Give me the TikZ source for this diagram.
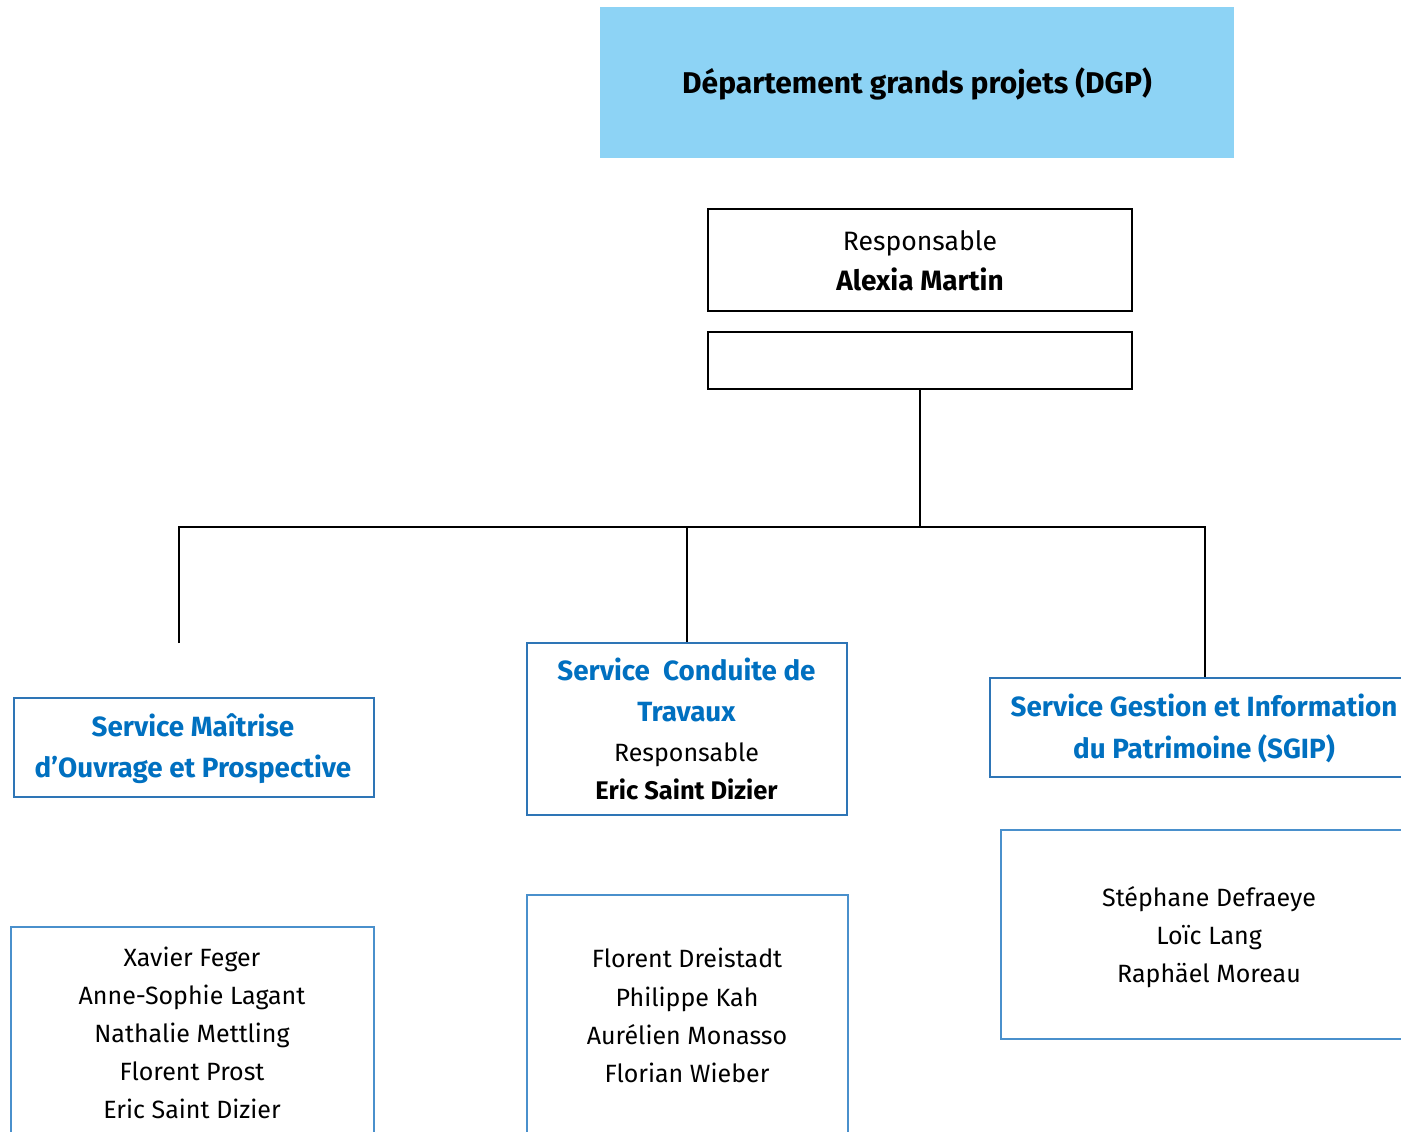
\documentclass[tikz,border=0pt]{standalone}
\usepackage{fontspec}
\setmainfont{Fira Sans}
\usetikzlibrary{fit}
\definecolor{titlefill}{HTML}{8DD3F5}
\definecolor{svcblue}{HTML}{0070C0}
\definecolor{svcline}{HTML}{2E75B6}
\definecolor{listline}{HTML}{4A90CC}
\begin{document}
\begin{tikzpicture}[x=1pt,y=-1pt,
  blackbox/.style={draw=black, line width=1.3pt, inner sep=0pt},
  svcbox/.style={draw=svcline, line width=1.3pt, inner sep=0pt},
  listbox/.style={draw=listline, line width=1.3pt, inner sep=0pt},
  conn/.style={draw=black, line width=1.5pt},
  ttl/.style={anchor=base, inner sep=0pt, font=\fontsize{30}{36}\selectfont\bfseries},
  svc/.style={anchor=base, inner sep=0pt, text=svcblue, font=\fontsize{27.8}{32}\selectfont\bfseries},
  body/.style={anchor=base, inner sep=0pt, font=\fontsize{25}{30}\selectfont},
  bodyb/.style={anchor=base, inner sep=0pt, font=\fontsize{25.5}{30}\selectfont\bfseries},
  bigbody/.style={anchor=base, inner sep=0pt, font=\fontsize{26.6}{30}\selectfont},
  bigbodyb/.style={anchor=base, inner sep=0pt, font=\fontsize{28}{30}\selectfont\bfseries}]
\useasboundingbox (0,0) rectangle (1401,1132);
\clip (0,0) rectangle (1401,1132);
\fill[white] (0,0) rectangle (1401,1132);

% header
\node[fill=titlefill, inner sep=0pt, fit={(600,7) (1234,158)}] (dgp) {};
\node[ttl] (dgptxt) at (917,93) {Département grands projets (DGP)};

% responsable
\node[blackbox, fit={(708,209) (1132,311)}] (resp) {};
\node[bigbody] (resp1) at (920,250) {Responsable};
\node[bigbodyb] (resp2) at (920,290.5) {Alexia Martin};
\node[blackbox, fit={(708,332) (1132,389)}] (sub) {};

% services
\node[svcbox, fit={(14,698) (374,797)}] (mop) {};
\node[svc] (mop1) at (193,736.5) {Service Maîtrise};
\node[svc] (mop2) at (193,777.5) {d’Ouvrage et Prospective};

\node[svcbox, fit={(527,643) (847,815)}] (ctt) {};
\node[svc] (ctt1) at (686.5,680.5) {Service\ \ Conduite de};
\node[svc] (ctt2) at (686.5,721.5) {Travaux};
\node[body] (ctt3) at (686.5,761.5) {Responsable};
\node[bodyb] (ctt4) at (686.5,799) {Eric Saint Dizier};

\node[svcbox, fit={(990,678) (1420,777)}] (sgip) {};
\node[svc] (sgip1) at (1204,716.5) {Service Gestion et Information};
\node[svc] (sgip2) at (1204,758) {du Patrimoine (SGIP)};

% lists
\node[listbox, fit={(11,927) (374,1150)}] (moplist) {};
\node[body] (m1) at (192,966) {Xavier Feger};
\node[body] (m2) at (192,1004) {Anne-Sophie Lagant};
\node[body] (m3) at (192,1042) {Nathalie Mettling};
\node[body] (m4) at (192,1080) {Florent Prost};
\node[body] (m5) at (192,1118.3) {Eric Saint Dizier};

\node[listbox, fit={(527,895) (848,1150)}] (cttlist) {};
\node[body] (c1) at (687,967.7) {Florent Dreistadt};
\node[body] (c2) at (687,1006) {Philippe Kah};
\node[body] (c3) at (687,1044.5) {Aurélien Monasso};
\node[body] (c4) at (687,1082.7) {Florian Wieber};

\node[listbox, fit={(1001,830) (1420,1039)}] (sgiplist) {};
\node[body] (s1) at (1209,906) {Stéphane Defraeye};
\node[body] (s2) at (1209,944.3) {Loïc Lang};
\node[body] (s3) at (1209,982.7) {Raphäel Moreau};

% connectors
\coordinate (hub) at (920,527);
\coordinate (mopend) at (179,643);
\draw[conn] (sub.south) -- (hub);
\draw[conn] (mopend) |- (hub);
\draw[conn] (hub) -| (sgip.north);
\draw[conn] (hub -| ctt.north) -- (ctt.north);
\end{tikzpicture}
\end{document}
